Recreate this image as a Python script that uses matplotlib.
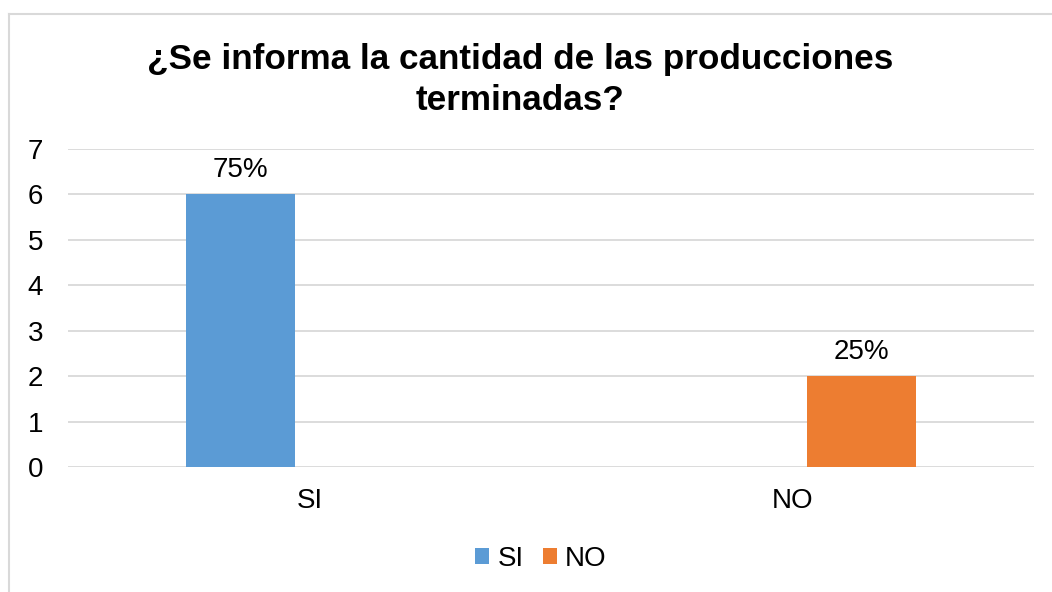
import matplotlib
matplotlib.use("Agg")
import matplotlib.pyplot as plt
from matplotlib.lines import Line2D
import numpy as np

categories = ["SI", "NO"]
series_names = ["SI", "NO"]
si_values = [6, 0]
no_values = [0, 2]
labels_si = ["75%", None]
labels_no = [None, "25%"]
colors = ["#5B9BD5", "#ED7D31"]

plt.rcParams['font.family'] = ['Liberation Sans', 'DejaVu Sans']

W, H = 1052, 592
fig = plt.figure(figsize=(W / 100, H / 100), dpi=100)
ax = fig.add_axes([68 / W, (H - 467.3) / H, (1034 - 68) / W, (467.3 - 149) / H])

x = np.arange(len(categories))
width = 0.226
off = 0.142
b1 = ax.bar(x - off, si_values, width, color=colors[0], label=series_names[0], zorder=3)
b2 = ax.bar(x + off, no_values, width, color=colors[1], label=series_names[1], zorder=3)

for bars, labs in ((b1, labels_si), (b2, labels_no)):
    for rect, lab in zip(bars, labs):
        if lab:
            ax.annotate(lab, (rect.get_x() + rect.get_width() / 2, rect.get_height()),
                        xytext=(0, 8), textcoords="offset points",
                        ha="center", va="bottom", fontsize=20, color="#000000")

ax.set_xlim(-0.5, 1.5)
ax.set_ylim(0, 7)
ax.set_yticks(range(0, 8))
ax.set_xticks(x)
ax.set_xticklabels(categories)
ax.tick_params(axis="both", length=0, labelsize=20, colors="#000000")
ax.tick_params(axis="y", pad=18)
ax.tick_params(axis="x", pad=15)
for s in ax.spines.values():
    s.set_visible(False)
ax.yaxis.grid(True, color="#d9d9d9", linewidth=1.3, zorder=0)
ax.set_axisbelow(True)

fig.text(520 / W, 1 - 60 / H, "¿Se informa la cantidad de las producciones",
         ha="center", va="center", fontsize=25.3, fontweight="bold")
fig.text(520 / W, 1 - 101 / H, "terminadas?",
         ha="center", va="center", fontsize=25.3, fontweight="bold")

leg = fig.legend(handles=[b1, b2], labels=series_names, loc="center",
                 bbox_to_anchor=(541 / W, 1 - 559 / H), ncol=2, frameon=False,
                 fontsize=20, handlelength=0.5, handleheight=0.5,
                 handletextpad=0.3, columnspacing=0.7)

# chart border (top and left visible)
fig.add_artist(Line2D([8.5 / W, 1.0], [1 - 14 / H, 1 - 14 / H], color="#d9d9d9", linewidth=1.5))
fig.add_artist(Line2D([8.5 / W, 8.5 / W], [1 - 14 / H, 0], color="#d9d9d9", linewidth=1.5))

fig.savefig("out.png", dpi=100)
